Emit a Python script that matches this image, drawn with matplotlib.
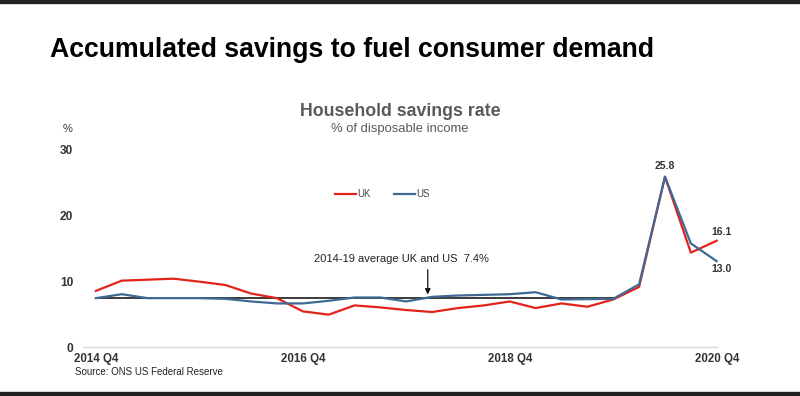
import matplotlib.pyplot as plt
from matplotlib.patches import Rectangle

plt.rcParams["font.family"] = ["Liberation Sans", "DejaVu Sans"]

# Quarterly household savings rate, 2014 Q4 .. 2020 Q4 (% of disposable income)
quarters = [f"{y} Q{q}" for y in range(2014, 2021) for q in range(1, 5)][3:]
uk = [8.5, 10.05, 10.2, 10.35, 9.9, 9.4, 8.1, 7.4, 5.4, 4.9, 6.3, 6.0,
      5.6, 5.3, 5.9, 6.3, 6.9, 5.9, 6.6, 6.1, 7.2, 9.1, 25.8, 14.3, 16.1]
us = [7.4, 8.0, 7.4, 7.4, 7.4, 7.3, 6.9, 6.6, 6.6, 7.0, 7.5, 7.5,
      6.9, 7.6, 7.8, 7.9, 8.0, 8.3, 7.2, 7.25, 7.3, 9.5, 25.8, 15.7, 13.0]
avg_value = 7.4
avg_end = "2019 Q4"
tick_labels = ["2014 Q4", "2016 Q4", "2018 Q4", "2020 Q4"]

RED = "#e3231b"
BLUE = "#3f6994"
GREY = "#5a5a5a"
DARK = "#333333"

fig = plt.figure(figsize=(8, 3.96), dpi=100)
ax = fig.add_axes([70 / 800, 49 / 396, 648 / 800, 198 / 396])

x = list(range(len(quarters)))
n_avg = quarters.index(avg_end) + 1
ax.plot(x[:n_avg], [avg_value] * n_avg, color="#2b2b2b", lw=1.3, zorder=2)
ax.plot(x, uk, color=RED, lw=1.6, label="UK", zorder=3)
ax.plot(x, us, color=BLUE, lw=1.6, label="US", zorder=4)

ax.set_xlim(-1, len(quarters) - 0.95)
ax.set_ylim(0, 30)
ax.set_yticks([0, 10, 20, 30])
ax.set_xticks([quarters.index(t) for t in tick_labels])
ax.set_xticklabels(tick_labels)
ax.tick_params(length=0, labelcolor=DARK)
ax.tick_params(axis="x", pad=4, labelsize=8.3)
ax.tick_params(axis="y", pad=-2.5, labelsize=8.6)
for lab in ax.get_xticklabels() + ax.get_yticklabels():
    lab.set_fontweight("bold")
for s in ["top", "right", "left"]:
    ax.spines[s].set_visible(False)
ax.spines["bottom"].set_color("#d9d9d9")
ax.spines["bottom"].set_linewidth(1.0)
ax.spines["bottom"].set_bounds(-0.5, len(quarters) - 0.97)

# end-point value labels
ax.text(22, uk[22] + 0.9, f"{uk[22]:.1f}", ha="center", va="bottom",
        fontsize=7.5, fontweight="bold", color=DARK)
ax.text(23.8, uk[-1] + 0.5, f"{uk[-1]:.1f}", ha="left", va="bottom",
        fontsize=7.5, fontweight="bold", color=DARK, clip_on=False)
ax.text(23.8, us[-1] - 0.5, f"{us[-1]:.1f}", ha="left", va="top",
        fontsize=7.5, fontweight="bold", color=DARK, clip_on=False)

# average annotation
ax.text(11.8, 13.3, f"2014-19 average UK and US  {avg_value}%", ha="center",
        va="center", fontsize=8, color="#222222")
ax.annotate("", xy=(12.83, avg_value + 0.55), xytext=(12.83, 11.7),
            arrowprops=dict(arrowstyle="-|>", color="#111111", lw=0.9,
                            mutation_scale=8, shrinkA=0, shrinkB=0))

ax.legend(loc="upper left", bbox_to_anchor=(0.395, 0.84), ncol=2, frameon=False,
          fontsize=7, handlelength=2.2, handletextpad=0.1, columnspacing=2.4,
          labelcolor="#444444")

ax.text(-1.1, 33, "%", fontsize=8, color=DARK, ha="center", va="center", clip_on=False)

fig.text(50 / 800, 1 - 50 / 396, "Accumulated savings to fuel consumer demand",
         fontsize=19.2, fontweight="bold", color="black", va="center", ha="left")
fig.text(400 / 800, 1 - 111 / 396, "Household savings rate", fontsize=12.8,
         fontweight="bold", color=GREY, ha="center", va="center")
fig.text(400 / 800, 1 - 129 / 396, "% of disposable income", fontsize=9.4,
         color=GREY, ha="center", va="center")
fig.text(75 / 800, 1 - 372 / 396, "Source: ONS US Federal Reserve", fontsize=7,
         color="#222222", ha="left", va="center")

# dark frame bars at top and bottom
fig.patches.append(Rectangle((0, 1 - 3 / 396), 1, 3 / 396, transform=fig.transFigure,
                             color="#222222", zorder=0))
fig.patches.append(Rectangle((0, 0), 1, 4 / 396, transform=fig.transFigure,
                             color="#222222", zorder=0))

fig.savefig("out.png", dpi=100)
